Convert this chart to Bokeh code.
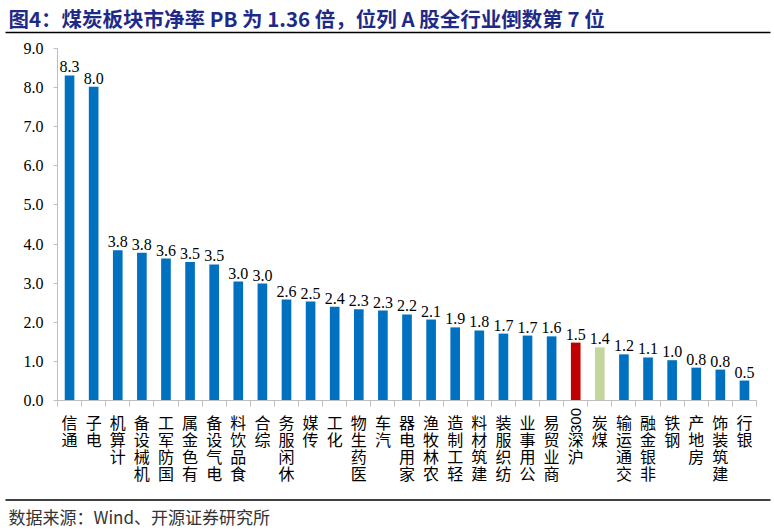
from bokeh.plotting import figure
from bokeh.models import FixedTicker, Range1d, Label, Arrow, ColumnDataSource, PrintfTickFormatter
from bokeh.core.properties import value
from bokeh.embed import file_html
from bokeh.resources import INLINE
import math

# ---- data ----
industries = ["通信", "电子", "计算机", "机械设备", "国防军工", "有色金属", "电气设备", "食品饮料",
              "综合", "休闲服务", "传媒", "化工", "医药生物", "汽车", "家用电器", "农林牧渔",
              "轻工制造", "建筑材料", "纺织服装", "公用事业", "商业贸易", "沪深300", "煤炭",
              "交通运输", "非银金融", "钢铁", "房地产", "建筑装饰", "银行"]
pb_values = [8.31, 8.02, 3.84, 3.78, 3.63, 3.54, 3.48, 3.04, 2.99, 2.58, 2.53, 2.40, 2.33, 2.30,
             2.20, 2.07, 1.87, 1.79, 1.71, 1.66, 1.64, 1.48, 1.36, 1.18, 1.10, 1.03, 0.84, 0.79, 0.51]
y_ticks = [0, 1, 2, 3, 4, 5, 6, 7, 8, 9]

title_text = "图4：煤炭板块市净率 PB 为 1.36 倍，位列 A 股全行业倒数第 7 位"
source_text = "数据来源：Wind、开源证券研究所"

BLUE = "#0070C0"
RED = "#C00000"
GREEN = "#C3D69B"
GRAY = "#BFBFBF"
CJK = "Noto Sans CJK SC"
SERIF = "serif"

W, H = 774, 530
# plot-area placement on the canvas (pixels)
PL, PR, PT, PB = 57, 756, 48, 400

n = len(industries)
idx = list(range(n))
colors = [RED if c == "沪深300" else GREEN if c == "煤炭" else BLUE for c in industries]
labels = ["%.1f" % v for v in pb_values]

# ranges chosen so the axes land at the plot-area edges while the frame fills the canvas
xppu = (PR - PL) / n
x0 = -0.5 - PL / xppu
x1 = n - 0.5 + (W - PR) / xppu
ymax = y_ticks[-1]
yppu = (PB - PT) / ymax
y0 = -(H - PB) / yppu
y1 = ymax + PT / yppu

src = ColumnDataSource(dict(x=idx, top=pb_values, color=colors, label=labels))

p = figure(width=W, height=H, output_backend="svg", toolbar_location=None,
           x_range=Range1d(x0, x1), y_range=Range1d(y0, y1),
           min_border=0, min_border_left=0, min_border_right=0,
           min_border_top=0, min_border_bottom=0)
p.outline_line_color = None
p.xgrid.visible = False
p.ygrid.visible = False
p.background_fill_color = "white"
p.border_fill_color = "white"

p.vbar(x="x", top="top", width=0.4, fill_color="color", line_color=None, source=src)
p.text(x="x", y="top", text="label", source=src, text_align="center", text_baseline="bottom",
       y_offset=-3, text_font=value(SERIF), text_font_size="16px", text_color="black")

# y axis
ya = p.yaxis[0]
ya.fixed_location = -0.5
ya.bounds = (0, ymax)
ya.ticker = FixedTicker(ticks=y_ticks)
ya.formatter = PrintfTickFormatter(format="%.1f")
ya.axis_line_color = GRAY
ya.major_tick_line_color = GRAY
ya.major_tick_out = 4
ya.major_tick_in = 0
ya.minor_tick_line_color = None
ya.major_label_text_font = SERIF
ya.major_label_text_font_size = "16px"
ya.major_label_text_color = "black"
ya.major_label_standoff = 10

# x axis with vertically stacked labels
def stack(name):
    if name == "沪深300":
        return "\u3000\n深\n沪"
    return "\n".join(reversed(name))

xa = p.xaxis[0]
xa.fixed_location = 0
xa.bounds = (-0.5, n - 0.5)
xa.ticker = FixedTicker(ticks=idx, minor_ticks=[i - 0.5 for i in range(n + 1)])
xa.major_label_overrides = {i: stack(c) for i, c in enumerate(industries)}
xa.axis_line_color = GRAY
xa.major_tick_line_color = None
xa.major_tick_out = 0
xa.major_tick_in = 0
xa.minor_tick_line_color = GRAY
xa.minor_tick_out = 6
xa.minor_tick_in = 0
xa.major_label_text_font = CJK
xa.major_label_text_font_size = "16px"
xa.major_label_text_line_height = 0.72
xa.major_label_text_color = "black"
xa.major_label_standoff = 3

# rotated "300" part of the 沪深300 label
hs = industries.index("沪深300")
p.add_layout(Label(x=hs, y=H - 420, x_units="data", y_units="screen", text="300", angle=math.pi / 2,
                   text_align="center", text_baseline="middle", text_font="Liberation Sans",
                   text_font_size="15px", text_color="black"))

# title, source and rules
p.add_layout(Label(x=8, y=H - 17, x_units="screen", y_units="screen", text=title_text,
                   text_font=CJK, text_font_style="bold", text_font_size="20.5px",
                   text_color="#1F2A87", text_baseline="middle"))
p.add_layout(Label(x=8, y=H - 516, x_units="screen", y_units="screen", text=source_text,
                   text_font=CJK, text_font_size="17px", text_color="#333333",
                   text_baseline="middle"))
for yy in (H - 32, H - 499.5):
    p.add_layout(Arrow(end=None, x_start=5, y_start=yy, x_end=770, y_end=yy,
                       start_units="screen", end_units="screen",
                       line_color="black", line_width=1.5))

open("out.html", "w").write(file_html(p, INLINE))
